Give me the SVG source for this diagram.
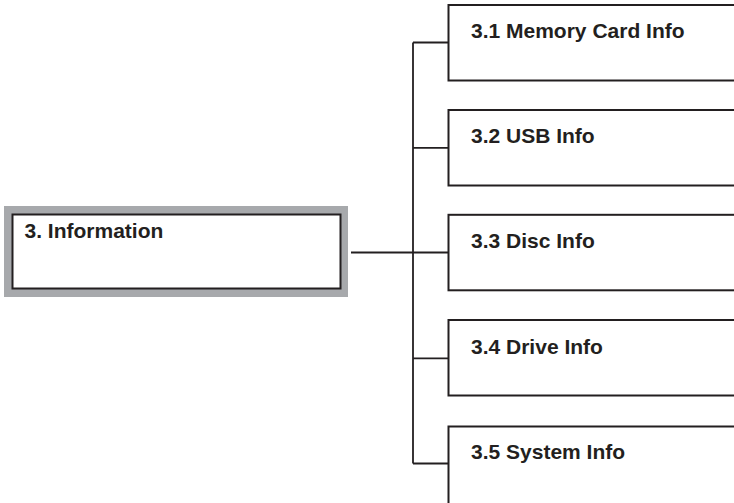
<svg xmlns="http://www.w3.org/2000/svg" width="734" height="503" viewBox="0 0 734 503">
<style>
.box{fill:#fff;stroke:#231f20;stroke-width:2}
.lbl{font-family:"Liberation Sans",Arial,sans-serif;font-weight:bold;font-size:21px;fill:#231f20}
.con{fill:none;stroke:#231f20;stroke-width:1.8}
</style>
<rect x="0" y="0" width="734" height="503" fill="#fff"/>
<g id="connectors">
<path class="con" d="M351 252.5 H448"/>
<path class="con" d="M413 42.5 V463.5"/>
<path class="con" d="M413 42.5 H448 M413 147.8 H448 M413 358.3 H448 M413 463.5 H448"/>
</g>
<g id="n3">
<rect x="4" y="206" width="344" height="91" fill="#a7a9ac"/>
<rect x="12.5" y="214.5" width="328" height="74" class="box"/>
<text x="24.5" y="237.8" class="lbl">3. Information</text>
</g>
<g id="n31">
<rect x="448.5" y="5" width="300" height="75.5" class="box"/>
<text x="471" y="38.2" class="lbl">3.1 Memory Card Info</text>
</g>
<g id="n32">
<rect x="448.5" y="110" width="300" height="75.5" class="box"/>
<text x="471" y="143" class="lbl">3.2 USB Info</text>
</g>
<g id="n33">
<rect x="448.5" y="214.8" width="300" height="75.5" class="box"/>
<text x="471" y="248" class="lbl">3.3 Disc Info</text>
</g>
<g id="n34">
<rect x="448.5" y="320" width="300" height="75.5" class="box"/>
<text x="471" y="353.5" class="lbl">3.4 Drive Info</text>
</g>
<g id="n35">
<rect x="448.5" y="426.5" width="300" height="80" class="box"/>
<text x="471" y="459" class="lbl">3.5 System Info</text>
</g>
</svg>
